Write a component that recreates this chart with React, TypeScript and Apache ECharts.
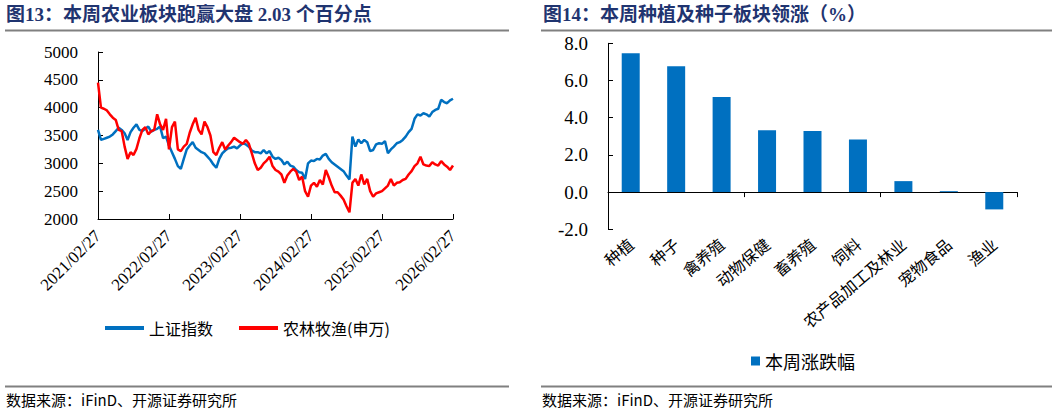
import React, { useEffect, useRef } from "react";
import * as echarts from "echarts";

// Left panel: index levels sampled every half month, starting 2021/02/27 (x in months)
const sseIndex = [
  3600, 3420, 3440, 3460, 3480, 3520, 3580, 3640, 3600, 3540,
  3420, 3560, 3640, 3700, 3600, 3580, 3620, 3660, 3570, 3600,
  3620, 3660, 3450, 3480, 3320, 3200, 3080, 2950, 2900, 3080,
  3250, 3320, 3380, 3280, 3240, 3200, 3180, 3120, 3060, 2980,
  2920, 3080, 3180, 3230, 3270, 3280, 3300, 3270, 3320, 3360,
  3340, 3300, 3230, 3200, 3200, 3180, 3240, 3180, 3220, 3120,
  3080, 3100, 3060, 2980, 3030, 2960, 2940, 2880, 2840, 2830,
  2720, 3000, 3050, 3040, 3080, 3070, 3140, 3170, 3080, 3020,
  2980, 2940, 2900, 2860, 2780, 2710, 3480, 3300, 3430, 3360,
  3420, 3380, 3220, 3240, 3340, 3360, 3350, 3400, 3180, 3250,
  3300, 3360, 3380, 3420, 3480, 3560, 3620, 3800, 3880, 3860,
  3900, 3880, 3840, 3920, 3960, 3980, 4140, 4100, 4080, 4130,
  4160,
];

const agriIndex = [
  4450, 4000, 3980, 3950, 3880, 3820, 3780, 3600, 3580, 3300,
  3080, 3200, 3150, 3260, 3450, 3600, 3650, 3520, 3580, 3600,
  3880, 3700, 3600, 3800, 3250, 3650, 3750, 3250, 3220, 3300,
  3350, 3550, 3700, 3820, 3600, 3520, 3750, 3650, 3500, 3200,
  3150, 3280, 3380, 3250, 3320, 3380, 3460, 3420, 3380, 3350,
  3420, 3350, 3180, 3000, 2880, 2920, 3000, 3050, 3120, 2950,
  2880, 2850, 2800, 2650, 2780, 2850, 2900, 2850, 2700, 2760,
  2500, 2400, 2600, 2650, 2580, 2700, 2620, 2880, 2750, 2600,
  2480, 2480, 2420, 2350, 2230, 2120, 2650, 2720, 2600, 2800,
  2620, 2720, 2500, 2400, 2460, 2480, 2500, 2550, 2600, 2720,
  2600, 2650, 2660, 2700, 2720, 2800, 2860, 2950, 3000, 3120,
  2980, 2960, 2950, 3020, 2980, 2960, 3040, 2980, 2940, 2880,
  2960,
];

const seriesNames = ["上证指数", "农林牧渔(申万)"];

// Right panel: weekly change by sub-sector (%)
const sectors = ["种植", "种子", "禽养殖", "动物保健", "畜养殖", "饲料", "农产品加工及林业", "宠物食品", "渔业"];
const weeklyChange = [7.47, 6.77, 5.11, 3.33, 3.28, 2.83, 0.59, 0.05, -0.93];

const SERIF = '"Liberation Serif", "Times New Roman", serif';
const CJK = '"Noto Sans CJK SC", "Liberation Serif", sans-serif';
const TITLE_FONT = '"Liberation Serif", "Noto Sans CJK SC", serif';

export default function App() {
  const ref = useRef<HTMLDivElement>(null);

  useEffect(() => {
    if (!ref.current) return;
    const chart = echarts.init(ref.current, null, { renderer: "svg" });

    const toPoints = (vals: number[]) => vals.map((v, i) => [i * 0.5, v]);

    chart.setOption({
      animation: false,
      backgroundColor: "#ffffff",
      grid: [
        { left: 98, top: 52, width: 355, height: 167 },
        { left: 608, top: 43.3, width: 409, height: 186 },
      ],
      legend: [
        {
          data: seriesNames,
          left: 100,
          top: 315,
          icon: "rect",
          itemWidth: 39,
          itemHeight: 4,
          itemGap: 26,
          textStyle: { fontFamily: CJK, fontSize: 16, color: "#000" },
        },
        {
          data: ["本周涨跌幅"],
          left: 746,
          top: 347,
          icon: "rect",
          itemWidth: 9,
          itemHeight: 9,
          textStyle: { fontFamily: CJK, fontSize: 18, color: "#000" },
        },
      ],
      xAxis: [
        {
          gridIndex: 0,
          type: "value",
          min: 0,
          max: 60,
          interval: 12,
          axisLine: { show: true, lineStyle: { color: "#000", width: 1 } },
          axisTick: { show: true, inside: true, length: 5, lineStyle: { color: "#000" } },
          splitLine: { show: false },
          axisLabel: {
            rotate: 45,
            margin: 14,
            fontFamily: SERIF,
            fontSize: 17,
            color: "#000",
            formatter: (v: number) => `${2021 + Math.round(v / 12)}/02/27`,
          },
        },
        {
          gridIndex: 1,
          type: "category",
          data: sectors,
          axisLine: { show: true, onZero: true, lineStyle: { color: "#000", width: 1 } },
          axisTick: { show: true, inside: false, length: 5, lineStyle: { color: "#000" } },
          axisLabel: { show: false },
        },
        {
          gridIndex: 1,
          type: "category",
          data: sectors,
          position: "bottom",
          axisLine: { show: false, onZero: false },
          axisTick: { show: false },
          axisLabel: {
            rotate: 40,
            margin: 12,
            interval: 0,
            fontFamily: CJK,
            fontSize: 16,
            color: "#000",
          },
        },
      ],
      yAxis: [
        {
          gridIndex: 0,
          type: "value",
          min: 2000,
          max: 5000,
          interval: 500,
          axisLine: { show: true, lineStyle: { color: "#000", width: 1 } },
          axisTick: { show: true, inside: true, length: 5, lineStyle: { color: "#000" } },
          splitLine: { show: false },
          axisLabel: {
            margin: 20,
            fontFamily: SERIF,
            fontSize: 17,
            color: "#000",
            formatter: (v: number) => String(v),
          },
        },
        {
          gridIndex: 1,
          type: "value",
          min: -2,
          max: 8,
          interval: 2,
          axisLine: { show: true, lineStyle: { color: "#000", width: 1 } },
          axisTick: { show: true, inside: true, length: 5, lineStyle: { color: "#000" } },
          splitLine: { show: false },
          axisLabel: {
            margin: 20,
            fontFamily: SERIF,
            fontSize: 19,
            color: "#000",
            formatter: (v: number) => v.toFixed(1),
          },
        },
      ],
      series: [
        {
          name: seriesNames[0],
          type: "line",
          xAxisIndex: 0,
          yAxisIndex: 0,
          data: toPoints(sseIndex),
          showSymbol: false,
          lineStyle: { color: "#0070C0", width: 2.5 },
          itemStyle: { color: "#0070C0" },
          z: 2,
        },
        {
          name: seriesNames[1],
          type: "line",
          xAxisIndex: 0,
          yAxisIndex: 0,
          data: toPoints(agriIndex),
          showSymbol: false,
          lineStyle: { color: "#FF0000", width: 2.5 },
          itemStyle: { color: "#FF0000" },
          z: 3,
        },
        {
          name: "本周涨跌幅",
          type: "bar",
          xAxisIndex: 1,
          yAxisIndex: 1,
          data: weeklyChange,
          barWidth: 18,
          itemStyle: { color: "#0070C0" },
        },
      ],
      graphic: [
        {
          type: "text",
          left: 6,
          top: 5,
          style: {
            text: "图13：本周农业板块跑赢大盘 2.03 个百分点",
            font: `bold 19px ${TITLE_FONT}`,
            fill: "#1F3470",
          },
        },
        {
          type: "text",
          left: 543,
          top: 5,
          style: {
            text: "图14：本周种植及种子板块领涨（%）",
            font: `bold 19px ${TITLE_FONT}`,
            fill: "#1F3470",
          },
        },
        { type: "line", shape: { x1: 5, y1: 30.5, x2: 509, y2: 30.5 }, style: { stroke: "#808080", lineWidth: 2 } },
        { type: "line", shape: { x1: 541, y1: 30.5, x2: 1052, y2: 30.5 }, style: { stroke: "#808080", lineWidth: 2 } },
        { type: "line", shape: { x1: 5, y1: 386.5, x2: 509, y2: 386.5 }, style: { stroke: "#808080", lineWidth: 2 } },
        { type: "line", shape: { x1: 541, y1: 386.5, x2: 1052, y2: 386.5 }, style: { stroke: "#808080", lineWidth: 2 } },
        {
          type: "text",
          left: 6,
          top: 392,
          style: { text: "数据来源：iFinD、开源证券研究所", font: `15px ${CJK}`, fill: "#000" },
        },
        {
          type: "text",
          left: 542,
          top: 392,
          style: { text: "数据来源：iFinD、开源证券研究所", font: `15px ${CJK}`, fill: "#000" },
        },
      ],
    });

    return () => chart.dispose();
  }, []);

  return (
    <div
      ref={ref}
      style={{ position: "fixed", left: 0, top: 0, width: 1057, height: 414, background: "#fff" }}
    />
  );
}
